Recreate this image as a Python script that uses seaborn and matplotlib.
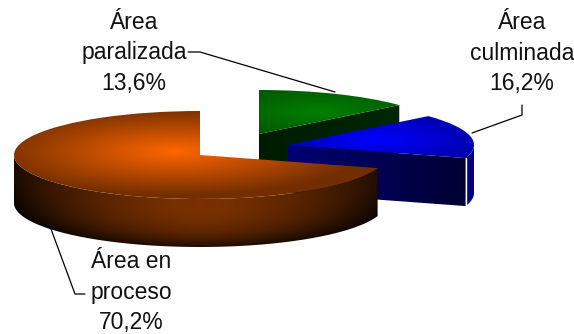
import numpy as np
import matplotlib
matplotlib.use("Agg")
import matplotlib.pyplot as plt
from matplotlib.path import Path
from matplotlib.patches import PathPatch
from matplotlib.transforms import Affine2D
import seaborn as sns

categories = ["Área\nparalizada", "Área\nculminada", "Área en\nproceso"]
values = [13.6, 16.2, 70.2]
colors = ["#008000", "#0000FF", "#FF6600"]

sns.set_theme(style="white")
plt.rcParams["font.family"] = ["Liberation Sans", "DejaVu Sans"]

W, H = 574, 334
RX, RY, DEPTH = 186, 44, 48


def py(y):
    return H - y


# Per-slice placement: apex of the exploded slice and peak of the highlight
centers = [(259, 134), (288, 145), (200, 155)]
peaks = [(320, 112), (375, 140), (175, 152)]
face_shades = [(0.22, 0.30), (0.45, 0.20), None]
text_pos = [(134, 53), (522, 53), (131, 292)]
leaders = [
    [(188, 52), (200, 52), (335, 92)],
    [(472, 133), (522, 115), (522, 105)],
    [(51, 229), (75, 294), (85, 294)],
]

fig = plt.figure(figsize=(W / 100, H / 100), dpi=100)
ax = fig.add_axes([0, 0, 1, 1])
wedges, _ = ax.pie(values, startangle=90, counterclock=False, radius=RX, center=(0, 0))
ax.set_aspect("auto")


def patch_bbox(patch):
    inv = ax.transData.inverted()
    b = patch.get_path().transformed(patch.get_transform() + inv).get_extents()
    return int(b.x0) - 1, int(b.y0) - 1, int(b.x1) + 2, int(b.y1) + 2


def paint(patch, rgb, shade, z):
    x0, y0, x1, y1 = patch_bbox(patch)
    xs = np.arange(x0, x1 + 1) + 0.0
    ys = np.arange(y0, y1 + 1) + 0.0
    X, Y = np.meshgrid(xs, ys)
    f = shade(X, Y)[..., None]
    img = np.clip(np.array(rgb) * f, 0, 1)
    im = ax.imshow(img, extent=(x0 - .5, x1 + .5, y0 - .5, y1 + .5), origin="lower",
                   aspect="auto", zorder=z, interpolation="bilinear")
    im.set_clip_path(patch)


def clear_patch(path, z):
    p = PathPatch(path, facecolor="none", edgecolor="none", zorder=z)
    ax.add_patch(p)
    return p


ax.set_xlim(0, W)
ax.set_ylim(0, H)
ax.axis("off")

for i, w in enumerate(wedges):
    cx, cy = centers[i][0], py(centers[i][1])
    px, pyy = peaks[i][0], py(peaks[i][1])
    rgb = matplotlib.colors.to_rgb(colors[i])
    base_z = 1 + i * 3
    t1 = w.theta1
    t2 = w.theta2

    # cut face towards the viewer
    if face_shades[i] is not None:
        a = np.radians(t1)
        ex, ey = cx + RX * np.cos(a), cy + RY * np.sin(a)
        verts = [(cx, cy), (ex, ey), (ex, ey - DEPTH), (cx, cy - DEPTH), (cx, cy)]
        p = clear_patch(Path(verts, closed=True), base_z)
        s0, s1 = face_shades[i]
        paint(p, rgb, lambda X, Y, s0=s0, s1=s1, cx=cx, ex=ex:
              s0 + (s1 - s0) * (X - cx) / (ex - cx), base_z)

    # outer rim: the part of the arc on the viewer's side
    th = np.radians(np.linspace(t1, t2, 600))
    th = th[np.sin(th) <= 0]
    if th.size > 1:
        ax_x = cx + RX * np.cos(th)
        ax_y = cy + RY * np.sin(th)
        verts = list(zip(ax_x, ax_y)) + list(zip(ax_x[::-1], ax_y[::-1] - DEPTH))
        p = clear_patch(Path(verts + [verts[0]], closed=True), base_z + 1)

        def rim(X, Y, cx=cx, cy=cy):
            u = np.clip((X - cx) / RX, -1, 1)
            arc = cy - RY * np.sqrt(1 - u ** 2)
            d = np.clip((arc - Y) / DEPTH, 0, 1)
            return (0.11 + 0.37 * (1 - np.abs(u) ** 1.6)) * (1 - 0.72 * d ** 3)
        if i == 1:
            paint(p, rgb, lambda X, Y: 0.5 + 0 * X, base_z + 1)
        else:
            paint(p, rgb, rim, base_z + 1)

    # top surface: the pie wedge flattened to an ellipse
    w.set_center((0, 0))
    w.set_transform(Affine2D().scale(1, RY / RX).translate(cx, cy) + ax.transData)
    w.set_facecolor("none")
    w.set_edgecolor("none")
    w.set_zorder(base_z + 2)

    def top(X, Y, px=px, pyy=pyy):
        r = np.sqrt(((X - px) / RX) ** 2 + ((Y - pyy) / RY) ** 2)
        return 1 - 0.55 * np.clip(r, 0, 1)
    paint(w, rgb, top, base_z + 2)

# slit between the blue cut face and its rim
a = np.radians(wedges[1].theta1)
ex = centers[1][0] + RX * np.cos(a)
ey = py(centers[1][1]) + RY * np.sin(a)
ax.plot([ex + 0.5, ex + 0.5], [ey, ey - DEPTH], color="white", lw=1, zorder=6)

for name, val, (tx, ty), line in zip(categories, values, text_pos, leaders):
    ax.text(tx, py(ty), f"{name}\n{val:.1f}%".replace(".", ","), ha="center", va="center",
            fontsize=16.5, linespacing=1.44, color="#111111", zorder=20)
    ax.plot([q[0] for q in line], [py(q[1]) for q in line], color="black", lw=0.9, zorder=20)

ax.set_xlim(0, W)
ax.set_ylim(0, H)
fig.savefig("out.png", dpi=100, facecolor="white")
